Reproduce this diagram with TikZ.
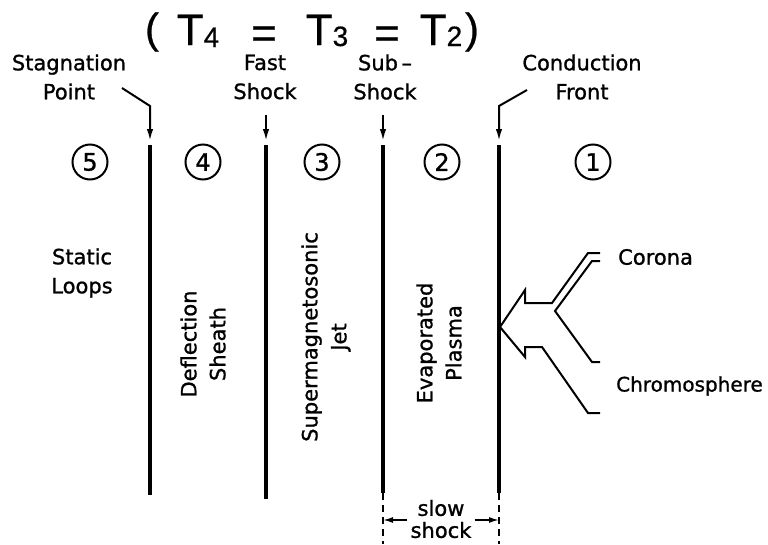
\documentclass[tikz,border=0pt]{standalone}
\usepackage{fontspec}
\setmainfont{DejaVu Sans}[FakeBold=1.1]
\newfontfamily\eqfont{Liberation Sans}[FakeBold=0.6]
\usetikzlibrary{arrows.meta}
\begin{document}
\begin{tikzpicture}[x=1pt,y=-1pt,
  lbl/.style={font=\fontsize{21}{29}\selectfont, align=center, inner sep=0pt},
  zone/.style={circle, draw, line width=2pt, minimum size=35pt, inner sep=0pt, font=\fontsize{24}{24}\selectfont},
  front/.style={line width=3.4pt},
  frontdash/.style={line width=2.4pt, dash pattern=on 7pt off 5pt},
  ptr/.style={line width=2pt, -{Latex[length=12pt,width=6.5pt]}},
  dimarrow/.style={line width=1.6pt, -{Latex[length=10pt,width=6pt]}},
  flow/.style={line width=2pt, line join=miter},
  eq/.style={font=\eqfont\fontsize{44}{44}\selectfont, inner sep=0pt, anchor=base},
  par/.style={font=\eqfont\fontsize{42}{42}\selectfont, inner sep=0pt}
]
\useasboundingbox (0,0) rectangle (768,544);

% equation
\node[par] (lp) at (152,32) {(};
\node[eq] (t4) at (198,45) {T\raisebox{-2pt}{\fontsize{28}{28}\selectfont 4}};
\node[eq] (eqa) at (264,48) {=};
\node[eq] (t3) at (327,45) {T\raisebox{-1pt}{\fontsize{28}{28}\selectfont 3}};
\node[eq] (eqb) at (387,48) {=};
\node[eq] (t2) at (441,45) {T\raisebox{-1pt}{\fontsize{28}{28}\selectfont 2}};
\node[par] (rp) at (472,32) {)};

% top labels
\node[lbl] (stag) at (69,77) {Stagnation\\Point};
\node[lbl] (fast) at (265,77) {Fast\\Shock};
\node[lbl] (sub) at (385,77) {Sub\,--\\Shock};
\node[lbl] (cond) at (582,77) {Conduction\\Front};

% fronts
\coordinate (f5t) at (150,145); \coordinate (f5b) at (150,495);
\coordinate (f4t) at (266,145); \coordinate (f4b) at (266,499);
\coordinate (f3t) at (383,145); \coordinate (f3b) at (383,493); \coordinate (f3e) at (383,544);
\coordinate (f2t) at (499,145); \coordinate (f2b) at (499,493); \coordinate (f2e) at (499,544);
\draw[front] (f5t) -- (f5b);
\draw[front] (f4t) -- (f4b);
\draw[front] (f3t) -- (f3b);
\draw[front] (f2t) -- (f2b);
\draw[frontdash] (f3b) -- (f3e);
\draw[frontdash] (f2b) -- (f2e);

% pointer arrows
\coordinate (sa) at (122,88); \coordinate (sb) at (150,106); \coordinate (se) at (150,141);
\coordinate (fa) at (266,115); \coordinate (fe) at (266,141);
\coordinate (ua) at (383,115); \coordinate (ue) at (383,141);
\coordinate (ca) at (527,90); \coordinate (cb) at (499,106); \coordinate (ce) at (499,141);
\draw[ptr] (sa) -- (sb) -- (se);
\draw[ptr] (fa) -- (fe);
\draw[ptr] (ua) -- (ue);
\draw[ptr] (ca) -- (cb) -- (ce);

% zone numbers
\node[zone] (z5) at (90,162) {5};
\node[zone] (z4) at (203,162) {4};
\node[zone] (z3) at (322,162) {3};
\node[zone] (z2) at (442,162) {2};
\node[zone] (z1) at (593,162) {1};

% region labels
\node[lbl] (static) at (82,273) {Static\\Loops};
\node[lbl, rotate=90] (defl) at (203,344) {Deflection\\Sheath};
\node[lbl, rotate=90] (jet) at (326,337) {Supermagnetosonic\\Jet};
\node[lbl, rotate=90] (evap) at (439,343) {Evaporated\\Plasma};

% corona / chromosphere flow arrow
\draw[flow] (600,253) -- (588,253) -- (552,303) -- (525,303) -- (525,290) -- (500,327)
  -- (525,357) -- (525,347) -- (542,347) -- (588,413) -- (600,413);
\draw[flow] (600,261) -- (592,261) -- (555,311) -- (592,362) -- (600,362);
\node[lbl, anchor=west] (corona) at (618,257) {Corona};
\node[lbl, anchor=west, font=\fontsize{20}{24}\selectfont] (chromo) at (616,386) {Chromosphere};

% slow shock
\node[lbl, font=\fontsize{21}{22}\selectfont] (slow) at (441,519) {slow\\shock};
\coordinate (sl) at (383,520); \coordinate (sr) at (499,520);
\draw[dimarrow] (slow.west |- sl) ++(-3,0) coordinate (slA) -- (sl);
\draw[dimarrow] (slow.east |- sr) ++(3,0) coordinate (srA) -- (sr);
\end{tikzpicture}
\end{document}
